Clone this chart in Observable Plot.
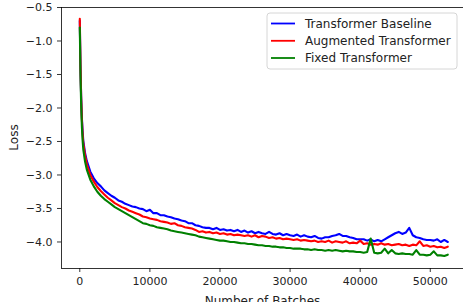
<!DOCTYPE html>
<html><head><meta charset="utf-8">
<script src="https://cdn.jsdelivr.net/npm/d3@7"></script>
<script src="https://cdn.jsdelivr.net/npm/@observablehq/plot@0.6"></script>
<style>
body{margin:0;background:#fff}
#chart{position:relative;width:463px;height:302px;overflow:hidden}
</style>
</head><body><div id="chart"></div>
<script>
const batches = [0,100,200,300,400,500,750,1000,1500,
2000,2500,3000,3500,4000,4500,5000,5500,6000,6500,7000,7500,8000,8500,9000,9500,
10000,10500,11000,11500,12000,12500,13000,13500,14000,14500,15000,15500,16000,16500,17000,17500,18000,18500,19000,19500,
20000,20500,21000,21500,22000,22500,23000,23500,24000,24500,25000,25500,26000,26500,27000,27500,28000,28500,29000,29500,
30000,30500,31000,31500,32000,32500,33000,33500,34000,34500,35000,35500,36000,36500,37000,37500,38000,38500,39000,39500,
40000,40500,41000,41500,42000,42500,43000,43500,44000,44500,45000,45500,46000,46500,47000,47500,48000,48500,49000,49500,
50000,50500,51000,51500,52000,52500];

const baseline = [-0.70,-1.42,-1.86,-2.15,-2.34,-2.49,-2.67,-2.79,-2.95,
-3.05,-3.12,-3.17,-3.23,-3.27,-3.31,-3.34,-3.38,-3.40,-3.43,-3.45,-3.47,-3.48,-3.50,-3.51,-3.54,
-3.52,-3.57,-3.57,-3.60,-3.60,-3.62,-3.63,-3.65,-3.66,-3.68,-3.69,-3.72,-3.72,-3.75,-3.76,-3.78,-3.79,-3.79,-3.81,-3.79,
-3.82,-3.81,-3.83,-3.82,-3.84,-3.82,-3.85,-3.83,-3.86,-3.84,-3.87,-3.85,-3.87,-3.88,-3.85,-3.88,-3.89,-3.87,-3.90,-3.88,
-3.90,-3.91,-3.89,-3.92,-3.90,-3.92,-3.93,-3.91,-3.94,-3.95,-3.93,-3.93,-3.91,-3.90,-3.88,-3.91,-3.91,-3.93,-3.94,-3.96,
-3.96,-3.96,-3.98,-3.96,-3.99,-3.97,-3.99,-3.96,-3.93,-3.90,-3.87,-3.85,-3.88,-3.86,-3.79,-3.90,-3.93,-3.94,-3.96,-3.97,
-3.97,-3.98,-3.96,-4.00,-3.97,-4.00];

const augmented = [-0.67,-1.38,-1.86,-2.18,-2.38,-2.53,-2.71,-2.84,-3.00,
-3.10,-3.18,-3.24,-3.29,-3.34,-3.38,-3.42,-3.45,-3.48,-3.50,-3.53,-3.55,-3.57,-3.59,-3.62,-3.63,
-3.65,-3.66,-3.67,-3.69,-3.70,-3.71,-3.73,-3.72,-3.75,-3.76,-3.78,-3.79,-3.80,-3.82,-3.85,-3.84,-3.86,-3.85,-3.87,-3.86,
-3.88,-3.87,-3.89,-3.88,-3.90,-3.89,-3.90,-3.91,-3.90,-3.92,-3.90,-3.93,-3.91,-3.92,-3.94,-3.93,-3.95,-3.94,-3.96,-3.95,
-3.96,-3.97,-3.96,-3.98,-3.97,-3.98,-3.99,-3.98,-4.00,-3.99,-4.00,-3.98,-4.01,-3.99,-4.00,-4.01,-3.99,-4.02,-4.01,-4.02,
-3.98,-4.03,-4.02,-4.04,-4.03,-4.04,-4.02,-4.04,-4.03,-4.05,-4.04,-4.03,-4.05,-4.04,-4.06,-4.04,-4.05,-3.99,-4.06,-4.05,
-4.07,-4.06,-4.08,-4.07,-4.09,-4.07];

const fixed = [-0.80,-1.52,-1.97,-2.28,-2.48,-2.62,-2.80,-2.92,-3.07,
-3.17,-3.25,-3.31,-3.36,-3.40,-3.44,-3.48,-3.51,-3.54,-3.57,-3.60,-3.63,-3.66,-3.69,-3.72,-3.73,
-3.75,-3.76,-3.78,-3.79,-3.80,-3.81,-3.83,-3.84,-3.85,-3.86,-3.87,-3.88,-3.89,-3.90,-3.92,-3.93,-3.94,-3.95,-3.96,-3.97,
-3.98,-3.98,-3.99,-4.00,-4.00,-4.01,-4.02,-4.02,-4.03,-4.03,-4.04,-4.05,-4.05,-4.06,-4.06,-4.07,-4.07,-4.08,-4.08,-4.09,
-4.09,-4.10,-4.10,-4.10,-4.11,-4.11,-4.12,-4.11,-4.12,-4.12,-4.13,-4.12,-4.13,-4.12,-4.13,-4.14,-4.13,-4.14,-4.14,-4.15,
-4.15,-4.16,-4.15,-3.95,-4.16,-4.17,-4.16,-4.10,-4.17,-4.12,-4.17,-4.18,-4.17,-4.18,-4.18,-4.19,-4.12,-4.19,-4.19,-4.20,
-4.19,-4.14,-4.20,-4.20,-4.21,-4.19];

const seriesNames = ["Transformer Baseline", "Augmented Transformer", "Fixed Transformer"];
const seriesColors = ["#0000ff", "#ff0000", "#008000"];
const xTicks = [0, 10000, 20000, 30000, 40000, 50000];
const yTicks = [-4.0, -3.5, -3.0, -2.5, -2.0, -1.5, -1.0, -0.5];
const xLabel = "Number of Batches";
const yLabel = "Loss";

const rows = [];
[baseline, augmented, fixed].forEach((vals, s) =>
  vals.forEach((v, i) => rows.push({batch: batches[i], loss: v, series: seriesNames[s]})));

const xDomain = [-2610, 54740];
const yDomain = [-4.396, -0.5];
const fmtY = d => d3.format(".1f")(d).replace("-", "\u2212");

const plot = Plot.plot({
  width: 463, height: 302,
  marginLeft: 61, marginRight: 0, marginTop: 7, marginBottom: 34,
  style: {fontFamily: "DejaVu Sans", fontSize: "11px", color: "#222", background: "#fff", overflow: "visible"},
  x: {domain: xDomain, label: null},
  y: {domain: yDomain, label: null},
  color: {domain: seriesNames, range: seriesColors},
  marks: [
    Plot.lineY(rows, {x: "batch", y: "loss", stroke: "series", strokeWidth: 2.1, z: "series"}),
    Plot.axisX(xTicks, {tickSize: 4, tickPadding: 5, tickFormat: d => String(d), stroke: "#000", strokeWidth: 0.8, label: null}),
    Plot.axisY(yTicks, {tickSize: 4, tickPadding: 5, tickFormat: fmtY, stroke: "#000", strokeWidth: 0.8, label: null}),
    Plot.ruleX([xDomain[0]], {stroke: "#000", strokeWidth: 0.8}),
    Plot.ruleY([yDomain[0], yDomain[1]], {stroke: "#000", strokeWidth: 0.8})
  ]
});
document.getElementById("chart").appendChild(plot);

const svg = d3.select(plot);
svg.append("text").attr("x", 262.5).attr("y", 304.5).attr("text-anchor", "middle")
  .attr("font-size", 12).attr("fill", "#222").text(xLabel);
svg.append("text").attr("transform", "translate(17.5,137.5) rotate(-90)").attr("text-anchor", "middle")
  .attr("font-size", 12).attr("fill", "#222").text(yLabel);

const lg = svg.append("g");
lg.append("rect").attr("x", 267).attr("y", 13).attr("width", 190).attr("height", 56).attr("rx", 3)
  .attr("fill", "#fff").attr("fill-opacity", 0.8).attr("stroke", "#ccc").attr("stroke-width", 0.8);
const rowY = [23.5, 40.8, 58];
seriesNames.forEach((name, i) => {
  lg.append("line").attr("x1", 271).attr("x2", 295).attr("y1", rowY[i]).attr("y2", rowY[i])
    .attr("stroke", seriesColors[i]).attr("stroke-width", 1.8);
  lg.append("text").attr("x", 305).attr("y", rowY[i] + 4.3).attr("text-anchor", "start")
    .attr("font-size", 12).attr("fill", "#222").text(name);
});
</script>
</body></html>
